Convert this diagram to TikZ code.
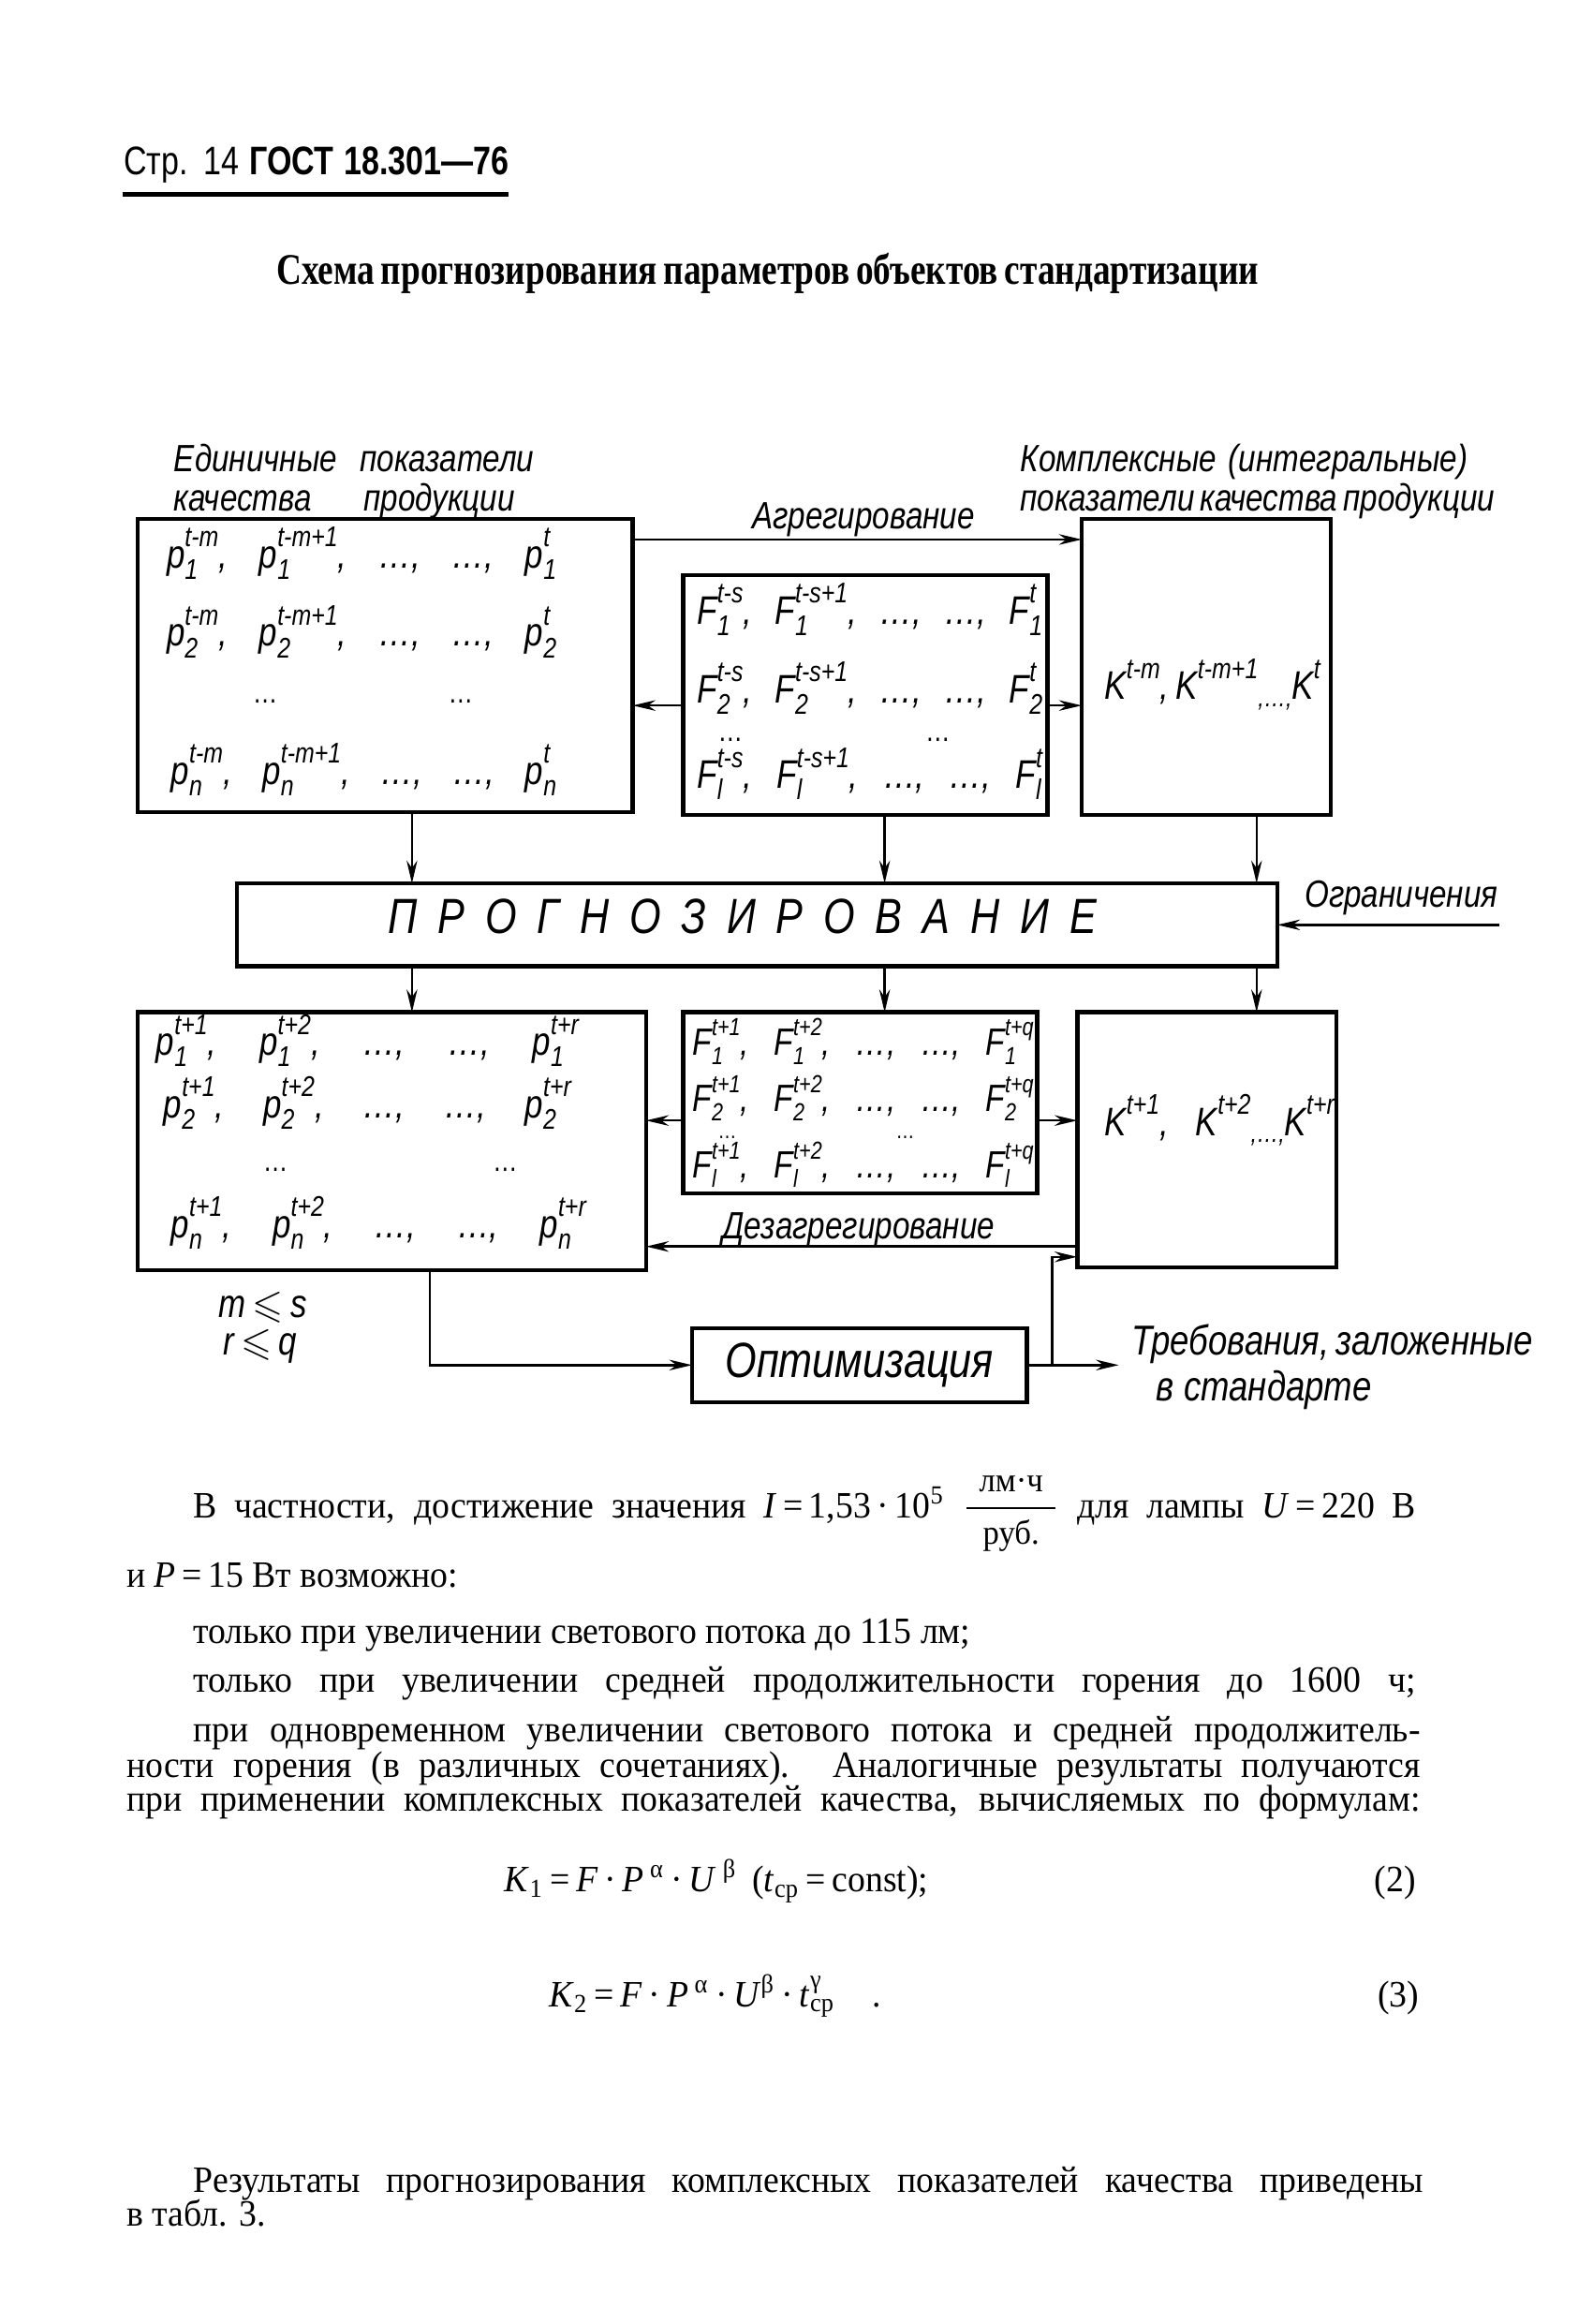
\documentclass[tikz,border=0pt]{standalone}
\usepackage{amsmath,amssymb}
\usepackage{fontspec}
\setmainfont{Liberation Serif}[FakeStretch=0.95]
\newfontfamily\ttl{Liberation Serif}[FakeStretch=0.8]
\newfontfamily\gost{Liberation Sans}[FakeStretch=0.82]
\newfontfamily\hdr{Liberation Sans}[FakeStretch=0.8]
\usetikzlibrary{arrows.meta}
\newcommand\uw[1]{\dimexpr 0.3903pt*#1\relax}
\newcommand\scr{\fontsize{7.5}{8}\selectfont}
\newcommand\scrs{\fontsize{6.5}{7}\selectfont}
% generic stacked sub/superscript: #1 size cmd, #2 raise, #3 lower, #4 sub, #5 sup
\newcommand\ssg[5]{\setbox0\hbox{#1\itshape #4}\setbox2\hbox{#1\itshape #5}%
  \ifdim\wd0>\wd2 \dimen0=\wd0 \else \dimen0=\wd2 \fi
  \hbox to \dimen0{\rlap{\raise#2\box2}\lower#3\box0\hss}}
\newcommand\tv[3]{\textit{#1}\ssg{\scr}{5.5pt}{3pt}{#2}{#3}}
\newcommand\tvs[3]{\textit{#1}\ssg{\scrs}{5.1pt}{2.4pt}{#2}{#3}}
\newcommand\kv[2]{\textit{#1}\raise5.5pt\hbox{\scr\itshape #2}}
\newcommand\sdots{\raisebox{-0.35ex}{\scriptsize ,…,}}
\begin{document}
\begin{tikzpicture}[x=0.3903pt, y=-0.3903pt,
  box/.style={draw, line width=1.1pt, inner sep=0pt, outer sep=0pt, anchor=north west},
  conn/.style={line width=0.6pt},
  arr/.style={conn, -{Stealth[length=6pt, width=2.8pt]}},
  lbl/.style={font=\gost\itshape\fontsize{10}{12}\selectfont, inner sep=0pt, anchor=base west},
  cell/.style={font=\gost\itshape\fontsize{10.5}{12}\selectfont, inner sep=0pt, anchor=base west},
  cellsm/.style={font=\gost\itshape\fontsize{10}{11}\selectfont, inner sep=0pt, anchor=base west},
  dts/.style={font=\gost\fontsize{8}{9}\selectfont, inner sep=0pt, anchor=base west},
  dtsm/.style={font=\gost\fontsize{6}{7}\selectfont, inner sep=0pt, anchor=base west},
  body/.style={font=\fontsize{9.8}{11}\selectfont, inner sep=0pt, anchor=base west},
]
\useasboundingbox (0,0) rectangle (1075,1568);

% header
\node[anchor=base west, inner sep=0pt, font=\hdr\fontsize{10.5}{12}\selectfont] (hdr) at (83,118) {\makebox[\uw{260}][s]{Стр. 14 \textbf{ГОСТ 18.301—76}}};
\draw[line width=1.3pt] (83,131) -- (343,131);
\node[anchor=base, inner sep=0pt, font=\ttl\bfseries\fontsize{11.5}{13}\selectfont] (title) at (518,192) {\makebox[\uw{663}][s]{Схема прогнозирования параметров объектов стандартизации}};

% boxes
\node[box, minimum width=334*0.3903pt, minimum height=198*0.3903pt] (A) at (93,350) {};
\node[box, minimum width=246*0.3903pt, minimum height=162*0.3903pt] (F1) at (461,388) {};
\node[box, minimum width=168*0.3903pt, minimum height=200*0.3903pt] (K1) at (730,350) {};
\node[box, minimum width=702*0.3903pt, minimum height=56*0.3903pt] (P) at (160,596) {};
\node[box, minimum width=343*0.3903pt, minimum height=174*0.3903pt] (B) at (93,683) {};
\node[box, minimum width=239*0.3903pt, minimum height=122*0.3903pt] (F2) at (461,683) {};
\node[box, minimum width=175*0.3903pt, minimum height=172*0.3903pt] (K2) at (727,683) {};
\node[box, minimum width=226*0.3903pt, minimum height=50*0.3903pt, font=\gost\itshape\fontsize{13}{15}\selectfont] (Opt) at (467,896) {Оптимизация};

% labels
\node[lbl] (l1) at (117,318) {\makebox[\uw{243}][s]{Единичные показатели}};
\node[lbl] (l2) at (117,345) {\makebox[\uw{230}][s]{качества продукции}};
\node[lbl] (l3) at (688,318) {\makebox[\uw{302}][s]{Комплексные (интегральные)}};
\node[lbl] (l4) at (688,345) {\makebox[\uw{292}][s]{показатели качества продукции}};
\node[lbl] (agr) at (507,357) {Агрегирование};
\node[lbl] (ogrl) at (880,612) {Ограничения};
\node[lbl] (dez) at (487,836) {Дезагрегирование};
\node[lbl, font=\gost\itshape\fontsize{11}{12}\selectfont] (tr1) at (763,914) {\makebox[\uw{270}][s]{Требования, заложенные}};
\node[lbl, font=\gost\itshape\fontsize{11}{12}\selectfont] (tr2) at (780,945) {в стандарте};
\node[lbl, font=\gost\itshape\fontsize{10.5}{12}\selectfont] (ms) at (147,889) {\textit{m}$\,\leqslant\,$\textit{s}};
\node[lbl, font=\gost\itshape\fontsize{10.5}{12}\selectfont] (rq) at (150,914) {\textit{r}$\,\leqslant\,$\textit{q}};
\node[anchor=base, inner sep=0pt, font=\gost\itshape\fontsize{13}{15}\selectfont] (pl) at (501,630) {\makebox[\uw{478}][s]{П Р О Г Н О З И Р О В А Н И Е}};

% box A
\node[cell] (a1) at (112,383) {\makebox[\uw{263}][s]{\tv{p}{1}{t-m}, \tv{p}{1}{t-m+1}, …, …, \tv{p}{1}{t}}};
\node[cell] (a2) at (112,436) {\makebox[\uw{263}][s]{\tv{p}{2}{t-m}, \tv{p}{2}{t-m+1}, …, …, \tv{p}{2}{t}}};
\node[dts] (a3) at (170,474) {…};
\node[dts] (a3b) at (302,474) {…};
\node[cell] (a4) at (115,529) {\makebox[\uw{260}][s]{\tv{p}{n}{t-m}, \tv{p}{n}{t-m+1}, …, …, \tv{p}{n}{t}}};
% box F1
\node[cell] (f1) at (470,421) {\makebox[\uw{233}][s]{\tv{F}{1}{t-s}, \tv{F}{1}{t-s+1}, …, …, \tv{F}{1}{t}}};
\node[cell] (f2) at (470,474) {\makebox[\uw{233}][s]{\tv{F}{2}{t-s}, \tv{F}{2}{t-s+1}, …, …, \tv{F}{2}{t}}};
\node[dts] (f3) at (484,500) {…};
\node[dts] (f3b) at (624,500) {…};
\node[cell] (f4) at (470,532) {\makebox[\uw{233}][s]{\tv{F}{l}{t-s}, \tv{F}{l}{t-s+1}, …, …, \tv{F}{l}{t}}};
% box K1
\node[cell] (k1) at (745,472) {\makebox[\uw{145}][s]{\kv{K}{t-m}, \kv{K}{t-m+1}\sdots\kv{K}{t}}};
% box B
\node[cell] (b1) at (105,712) {\makebox[\uw{285}][s]{\tv{p}{1}{t+1}, \tv{p}{1}{t+2}, …, …, \tv{p}{1}{t+r}}};
\node[cell] (b2) at (110,754) {\makebox[\uw{275}][s]{\tv{p}{2}{t+1}, \tv{p}{2}{t+2}, …, …, \tv{p}{2}{t+r}}};
\node[dts] (b3) at (177,790) {…};
\node[dts] (b3b) at (332,790) {…};
\node[cell] (b4) at (115,835) {\makebox[\uw{280}][s]{\tv{p}{n}{t+1}, \tv{p}{n}{t+2}, …, …, \tv{p}{n}{t+r}}};
% box F2
\node[cellsm] (g1) at (467,712) {\makebox[\uw{230}][s]{\tvs{F}{1}{t+1}, \tvs{F}{1}{t+2}, …, …, \tvs{F}{1}{t+q}}};
\node[cellsm] (g2) at (467,750) {\makebox[\uw{230}][s]{\tvs{F}{2}{t+1}, \tvs{F}{2}{t+2}, …, …, \tvs{F}{2}{t+q}}};
\node[dtsm] (g3) at (484,768) {…};
\node[dtsm] (g3b) at (604,768) {…};
\node[cellsm] (g4) at (467,795) {\makebox[\uw{230}][s]{\tvs{F}{l}{t+1}, \tvs{F}{l}{t+2}, …, …, \tvs{F}{l}{t+q}}};
% box K2
\node[cell] (k2) at (745,766) {\makebox[\uw{155}][s]{\kv{K}{t+1}, \kv{K}{t+2}\sdots\kv{K}{t+r}}};

% connector helpers
\coordinate (ya) at (0,364);
\coordinate (yb) at (0,476);
\coordinate (yc) at (0,756);
\coordinate (yd) at (0,841);
\coordinate (ye) at (0,848);
\coordinate (x1) at (278,0);
\coordinate (x2) at (597,0);
\coordinate (x3) at (848,0);
\coordinate (xb) at (290,0);
\coordinate (ogr) at (1012,624);
\coordinate (treb) at (755,921);
\coordinate (jn) at (710,921);

\draw[arr] (A.east |- ya) -- (K1.west |- ya);
\draw[arr] (F1.east |- yb) -- (K1.west |- yb);
\draw[arr] (F1.west |- yb) -- (A.east |- yb);
\draw[arr] (A.south -| x1) -- (P.north -| x1);
\draw[arr] (F1.south -| x2) -- (P.north -| x2);
\draw[arr] (K1.south -| x3) -- (P.north -| x3);
\draw[arr] (ogr) -- (P.east |- ogr);
\draw[arr] (P.south -| x1) -- (B.north -| x1);
\draw[arr] (P.south -| x2) -- (F2.north -| x2);
\draw[arr] (P.south -| x3) -- (K2.north -| x3);
\draw[arr] (F2.east |- yc) -- (K2.west |- yc);
\draw[arr] (F2.west |- yc) -- (B.east |- yc);
\draw[arr] (K2.west |- yd) -- (B.east |- yd);
\draw[arr] (B.south -| xb) |- (Opt.west);
\draw[arr] (Opt.east) -- (treb);
\draw[arr] (jn) |- (K2.west |- ye);

% body text
\node[body] (t1) at (130,1024) {\makebox[\uw{825}][s]{В частности, достижение значения \textit{I}\,=\,1,53\,·\,10\textsuperscript{5} $\dfrac{\makebox[\uw{60}]{\small лм·ч}}{\text{\small руб.}}$ для лампы \textit{U}\,=\,220 В}};
\node[body] (t2) at (85,1071) {и \textit{P}\,=\,15 Вт возможно:};
\node[body] (t3) at (130,1109) {только при увеличении светового потока до 115 лм;};
\node[body] (t4) at (130,1142) {\makebox[\uw{825}][s]{только при увеличении средней продолжительности горения до 1600 ч;}};
\node[body] (t5) at (130,1175) {\makebox[\uw{828}][s]{при одновременном увеличении светового потока и средней продолжитель-}};
\node[body] (t6) at (85,1199) {\makebox[\uw{873}][s]{ности горения (в различных сочетаниях). Аналогичные результаты получаются}};
\node[body] (t7) at (85,1222) {\makebox[\uw{873}][s]{при применении комплексных показателей качества, вычисляемых по формулам:}};
\node[body] (e2) at (340,1276) {\textit{K}\textsubscript{1}\,=\,\textit{F}\,·\,\textit{P}\,\textsuperscript{α}\,·\,\textit{U}\,\textsuperscript{β}\, (\textit{t}\textsubscript{ср}\,=\,const);};
\node[body, anchor=base east] (n2) at (956,1276) {(2)};
\node[body] (e3) at (370,1354) {\textit{K}\textsubscript{2}\,=\,\textit{F}\,·\,\textit{P}\,\textsuperscript{α}\,·\,\textit{U}\textsuperscript{β}\,·\,\textit{t}$^{\text{γ}}_{\text{ср}}$\quad .};
\node[body, anchor=base east] (n3) at (958,1354) {(3)};
\node[body] (t8) at (130,1479) {\makebox[\uw{830}][s]{Результаты прогнозирования комплексных показателей качества приведены}};
\node[body] (t9) at (85,1502) {в табл. 3.};
\end{tikzpicture}
\end{document}
